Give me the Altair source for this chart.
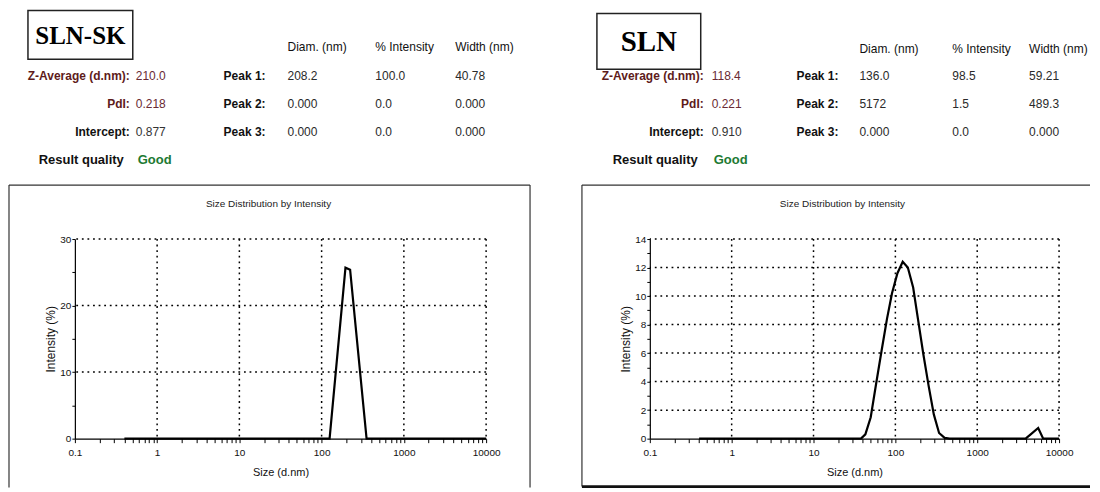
import altair as alt
import pandas as pd

SANS = "Liberation Sans, Arial, sans-serif"
SERIF = "Liberation Serif, DejaVu Serif, serif"

# ---------------- data ----------------
sk_size = [0.4, 125, 195, 222, 352, 10000]
sk_int = [0, 0, 25.7, 25.4, 0, 0]

sln_size = [0.4, 38, 43, 50, 58, 68, 79, 91, 106, 123, 142, 165, 190, 220,
            255, 295, 342, 400, 460, 3900, 4500, 5560, 6400, 10000]
sln_int = [0, 0, 0.3, 1.5, 3.8, 6.2, 8.4, 10.2, 11.6, 12.4, 12.0, 10.6, 8.3,
           5.9, 3.7, 1.7, 0.4, 0.05, 0, 0, 0.3, 0.75, 0, 0]

summary_labels = ["Z-Average (d.nm):", "PdI:", "Intercept:", "Result quality"]
sk_summary = ["210.0", "0.218", "0.877", "Good"]
sln_summary = ["118.4", "0.221", "0.910", "Good"]
label_colors = ["#5e1b1b", "#5e1b1b", "#111111", "#111111"]
value_colors = ["#6a2a33", "#6a2a33", "#333333", "#1d7a32"]

peak_labels = ["Peak 1:", "Peak 2:", "Peak 3:"]
col_headers = ["Diam. (nm)", "% Intensity", "Width (nm)"]
sk_diam = ["208.2", "0.000", "0.000"]
sk_pint = ["100.0", "0.0", "0.0"]
sk_width = ["40.78", "0.000", "0.000"]
sln_diam = ["136.0", "5172", "0.000"]
sln_pint = ["98.5", "1.5", "0.0"]
sln_width = ["59.21", "489.3", "0.000"]

x_ticks = [round(m * 10 ** e, 6) for e in range(-1, 4) for m in range(1, 10)] + [10000]
x_grid = [1, 10, 100, 1000, 10000]

ONE = alt.Data(values=[{}])


def text_col(texts, x, y0, dy, align, size, weight="normal", colors=None,
             font=SANS):
    df = pd.DataFrame({"t": texts, "r": list(range(len(texts)))})
    enc = dict(x=alt.value(x),
               y=alt.Y("py:Q", scale=None, axis=None),
               text="t:N")
    mk = dict(align=align, baseline="middle", font=font, fontSize=size,
              fontWeight=weight)
    if colors is not None:
        df["c"] = colors
        enc["color"] = alt.Color("c:N", scale=None, legend=None)
    else:
        mk["color"] = "#2a2a2a"
    return (alt.Chart(df).transform_calculate(py=f"{y0} + {dy} * datum.r")
            .mark_text(**mk).encode(**enc))


def panel(name, size, inten, ymax, ytick_step, ylabel_step, ygrid, summary,
          diam, pint, width, L):
    W = L["w"]
    H = 200
    df = pd.DataFrame({"size": size, "intensity": inten})
    y_ticks = [v for v in range(0, ymax + 1, ytick_step)]
    xs = alt.Scale(type="log", domain=[0.1, 10000])
    ys = alt.Scale(domain=[0, ymax], nice=False, zero=True)

    xaxis = alt.Axis(values=x_ticks, title="Size (d.nm)",
                     labelExpr="indexof([0.1,1,10,100,1000,10000], datum.value) >= 0 ? format(datum.value, '~g') : ''",
                     grid=False, tickSize=4, labelPadding=5,
                     titlePadding=9, labelFlush=False, labelOverlap=False,
                     titleFontSize=11)
    yaxis = alt.Axis(values=y_ticks, title="Intensity (%)",
                     labelExpr=f"datum.value % {ylabel_step} == 0 ? datum.label : ''",
                     grid=False, tickSize=3, labelPadding=1,
                     titlePadding=2, labelOverlap=False, labelFlush=False,
                     titleFontSize=12)

    line = alt.Chart(df).mark_line(color="black", strokeWidth=2.2).encode(
        x=alt.X("size:Q", scale=xs, axis=xaxis),
        y=alt.Y("intensity:Q", scale=ys, axis=yaxis),
    )

    vgrid = alt.Chart(pd.DataFrame({"size": x_grid})).mark_rule(
        color="black", strokeWidth=1.5, strokeDash=[1.8, 3.8]).encode(
        x=alt.X("size:Q", scale=xs, axis=xaxis))
    hgrid = alt.Chart(pd.DataFrame({"intensity": ygrid})).mark_rule(
        color="black", strokeWidth=1.5, strokeDash=[1.8, 3.8]).encode(
        y=alt.Y("intensity:Q", scale=ys, axis=yaxis))

    # frame around the plot block
    fl, fr, ft, fb = L["frame"]
    frame = [
        alt.Chart(ONE).mark_rule(color="#333", strokeWidth=1.2).encode(
            x=alt.value(fl), x2=alt.value(fr), y=alt.value(ft)),
        alt.Chart(ONE).mark_rule(color="#333", strokeWidth=1.2).encode(
            x=alt.value(fl), y=alt.value(ft), y2=alt.value(fb)),
    ]
    if L["frame_right"]:
        frame.append(alt.Chart(ONE).mark_rule(color="#333", strokeWidth=1.2).encode(
            x=alt.value(fr), y=alt.value(ft), y2=alt.value(fb)))
    if L["frame_bottom"]:
        frame.append(alt.Chart(ONE).mark_rule(color="#111", strokeWidth=2.8).encode(
            x=alt.value(fl), x2=alt.value(fr), y=alt.value(fb)))

    title = alt.Chart(ONE).mark_text(
        text="Size Distribution by Intensity", font=SANS, fontSize=10,
        color="#222", align="center", baseline="middle").encode(
        x=alt.value(L["title_x"]), y=alt.value(-35))

    bx0, bx1, by0, by1 = L["box"]
    box = alt.Chart(ONE).mark_rect(fill="white", stroke="#222",
                                   strokeWidth=1.5).encode(
        x=alt.value(bx0), x2=alt.value(bx1), y=alt.value(by0), y2=alt.value(by1))
    boxtext = alt.Chart(ONE).mark_text(
        text=name, font=SERIF, fontSize=L["name_size"], fontWeight="bold",
        color="black", align="center", baseline="middle").encode(
        x=alt.value((bx0 + bx1) / 2), y=alt.value((by0 + by1) / 2 + 1))

    r0, dy = L["r0"], L["dy"]
    texts = [
        text_col(summary_labels[:3], L["lab_r"], r0, dy, "right", 12, "bold",
                 label_colors[:3]),
        text_col(summary[:3], L["val_l"], r0, dy, "left", 12, "normal",
                 value_colors[:3]),
        text_col(summary_labels[3:], L["lab_r"] - 6, r0 + 3 * dy, dy, "right",
                 13, "bold", label_colors[3:]),
        text_col(summary[3:], L["val_l"] + 2, r0 + 3 * dy, dy, "left", 13,
                 "bold", value_colors[3:]),
        text_col(peak_labels, L["peak_l"], r0, dy, "left", 12, "bold",
                 ["#111"] * 3),
        text_col(diam, L["cols"][0], r0, dy, "left", 12),
        text_col(pint, L["cols"][1], r0, dy, "left", 12),
        text_col(width, L["cols"][2], r0, dy, "left", 12),
    ]
    heads = [text_col([h], L["cols"][i], L["hy"], dy, "left", 12, "normal",
                      ["#111"]) for i, h in enumerate(col_headers)]

    layers = [hgrid, vgrid, line] + frame + [title, box, boxtext] + texts + heads
    return alt.layer(*layers).properties(width=W, height=H)


left = panel("SLN-SK", sk_size, sk_int, 30, 5, 10, [10, 20, 30],
             sk_summary, sk_diam, sk_pint, sk_width,
             dict(w=412, frame=(-66, 456, -54, 249), frame_right=True,
                  frame_bottom=False, title_x=194,
                  box=(-47, 58, -229, -180), name_size=25,
                  r0=-163, dy=28, hy=-192,
                  lab_r=55, val_l=61, peak_l=149, cols=(213, 301, 381)))

right = panel("SLN", sln_size, sln_int, 14, 1, 2, [2, 4, 6, 8, 10, 12, 14],
              sln_summary, sln_diam, sln_pint, sln_width,
              dict(w=410, frame=(-68, 441, -54, 248), frame_right=False,
                   frame_bottom=True, title_x=193,
                   box=(-53, 51, -226, -170), name_size=29,
                   r0=-163, dy=28, hy=-190,
                   lab_r=54, val_l=62, peak_l=147, cols=(210, 303, 380)))

chart = alt.hconcat(left, right, spacing=164, bounds="flush").properties(
    padding={"top": 1, "left": 0, "right": 0, "bottom": 0}
).configure_view(stroke=None).configure_axis(
    domainColor="black", domainWidth=1.2, tickColor="black", tickWidth=1,
    labelFont=SANS, labelFontSize=10, labelColor="#111",
    titleFont=SANS, titleFontWeight="normal", titleColor="#111",
    labelOverlap=False)

chart.save("out.html", embed_options={"renderer": "svg", "actions": False})
